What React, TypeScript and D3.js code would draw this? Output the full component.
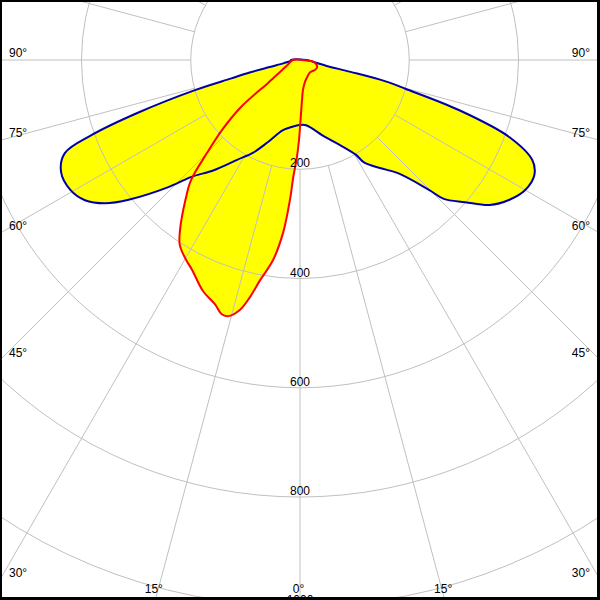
import React from "react";
import * as d3 from "d3";

// C0-C180 plane (blue), gamma in degrees from nadir (negative = left), intensity in cd
const blueAngles = [-90, -84, -79, -77, -76, -75, -74, -72, -70.2, -68.4, -64.9, -60.5, -56.9, -53.7, -50.7, -46, -43, -38, -32.2, -26.8, -21.3, -13.6, -4.3, 0, 5.3, 18, 25.2, 30.5, 32, 36.5, 41, 44.8, 46, 49.3, 52.6, 56.3, 60, 63.8, 66.7, 69.8, 72.5, 74.7, 76, 76.8, 77.5, 80, 85, 90];
const blueValues = [16, 18, 30, 57, 95, 130, 200, 311, 405, 463, 483, 483, 470, 443, 403, 335, 293, 256, 216, 190, 161, 132, 121, 119, 120, 148, 172, 201, 221, 246, 275, 335, 366, 399, 437, 461, 476, 478, 463, 408, 306, 201, 160, 95, 50, 32, 18, 11];

// C90-C270 plane (red)
const redAngles = [-90, -69, -61.6, -57.9, -55.8, -54.3, -51.5, -48.1, -45, -42.2, -39.4, -35.2, -33, -29.7, -27.2, -22.9, -19.1, -17.1, -15.7, -13.5, -11.9, -10.3, -7.7, -5.6, -4.1, -3.3, -1.9, -0.7, 0, 2.9, 5.7, 12.8, 22.4, 39.8, 56, 67.6, 81.9, 90];
const redValues = [13, 24, 35, 48, 60, 72, 138, 192, 241, 297, 330, 381, 404, 421, 432, 458, 474, 487, 487, 470, 443, 410, 370, 318, 256, 215, 180, 146, 123, 73, 55, 41, 34, 29, 33, 34, 26, 4];

const circleValues = [200, 400, 600, 800, 1000, 1200];
const circleLabels = ["200", "400", "600", "800", "1000", "1200"];
const spokeAngles = d3.range(0, 360, 15);
const angleLabels = [-90, -75, -60, -45, -30, -15, 0, 15, 30, 45, 60, 75, 90];

const W = 600;
const H = 600;
const CX = 300;
const CY = 60;
const FONT = "'Liberation Sans', Arial, sans-serif";

export default function App() {
  const r = d3.scaleLinear().domain([0, 1000]).range([0, 546.3]);
  const toRad = (g: number) => Math.PI - (g * Math.PI) / 180;

  const line = d3
    .lineRadial<[number, number]>()
    .angle((d) => toRad(d[0]))
    .radius((d) => r(d[1]))
    .curve(d3.curveCatmullRomClosed.alpha(0.5));

  const blueData = blueAngles.map((a, i) => [a, blueValues[i]] as [number, number]);
  const redData = redAngles.map((a, i) => [a, redValues[i]] as [number, number]);
  const bluePath = line(blueData) || "";
  const redPath = line(redData) || "";

  const r0 = r(200);
  const far = 1000;

  // labels at frame intersections
  const labelEls = angleLabels.map((g) => {
    const rad = (Math.abs(g) * Math.PI) / 180;
    const sx = Math.sin(rad) * (g < 0 ? -1 : 1);
    const sy = Math.cos(rad);
    const tBottom = sy > 1e-6 ? (H - CY) / sy : Infinity;
    const tSide = Math.abs(sx) > 1e-6 ? (sx < 0 ? CX / -sx : (W - CX) / sx) : Infinity;
    const txt = `${Math.abs(g)}°`;
    if (tBottom < tSide) {
      const xe = CX + sx * tBottom;
      return (
        <text key={g} x={xe - 1.5} y={593} textAnchor="middle" fontSize={12} fontFamily={FONT} fill="#000">
          {txt}
        </text>
      );
    }
    const ye = CY + sy * tSide;
    if (sx < 0) {
      return (
        <text key={g} x={9} y={ye - 3} textAnchor="start" fontSize={12} fontFamily={FONT} fill="#000">
          {txt}
        </text>
      );
    }
    return (
      <text key={g} x={590} y={ye - 3} textAnchor="end" fontSize={12} fontFamily={FONT} fill="#000">
        {txt}
      </text>
    );
  });

  return (
    <svg
      width={W}
      height={H}
      viewBox={`0 0 ${W} ${H}`}
      style={{ position: "absolute", left: 0, top: 0, display: "block", background: "#fff" }}
    >
      <rect x={0} y={0} width={W} height={H} fill="#fff" />
      <g transform={`translate(${CX},${CY})`}>
        <path d={bluePath} fill="#ffff00" stroke="none" />
        <path d={redPath} fill="#ffff00" stroke="none" />
      </g>
      <g transform={`translate(${CX},${CY})`} stroke="#c0c0c0" strokeWidth={1} fill="none">
        {circleValues.map((v) => (
          <circle key={v} r={r(v)} />
        ))}
        {spokeAngles.map((a) => {
          const rad = (a * Math.PI) / 180;
          return (
            <line
              key={a}
              x1={r0 * Math.sin(rad)}
              y1={r0 * Math.cos(rad)}
              x2={far * Math.sin(rad)}
              y2={far * Math.cos(rad)}
            />
          );
        })}
      </g>
      <g transform={`translate(${CX},${CY})`}>
        <path d={bluePath} fill="none" stroke="#0000a8" strokeWidth={2} strokeLinejoin="round" />
        <path d={redPath} fill="none" stroke="#ff0000" strokeWidth={2} strokeLinejoin="round" />
      </g>
      {circleValues.map((v, i) => (
        <text
          key={v}
          x={CX}
          y={CY + r(v) - 2}
          textAnchor="middle"
          fontSize={12}
          fontFamily={FONT}
          fill="#000"
        >
          {circleLabels[i]}
        </text>
      ))}
      {labelEls}
      <rect x={0} y={0} width={2} height={H} fill="#000" />
      <rect x={0} y={0} width={W} height={2} fill="#000" />
      <rect x={597} y={0} width={3} height={H} fill="#000" />
      <rect x={0} y={597} width={W} height={3} fill="#000" />
    </svg>
  );
}
